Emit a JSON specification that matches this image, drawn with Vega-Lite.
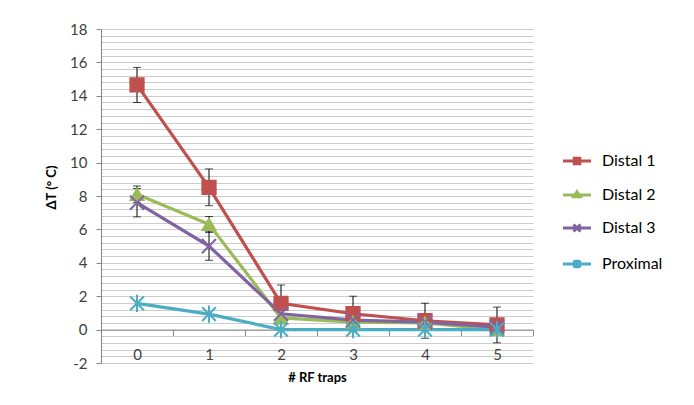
{
  "$schema": "https://vega.github.io/schema/vega-lite/v6.json",
  "width": 432,
  "height": 334,
  "autosize": {"type": "none"},
  "padding": {"left": 101, "top": 29, "right": 161, "bottom": 42},
  "background": "white",
  "config": {
    "view": {"stroke": null},
    "font": "Lato",
    "axis": {"labelFont": "Lato", "titleFont": "Lato"},
    "legend": {"labelFont": "Lato"}
  },
  "data": {
    "values": [
      {"series": "Distal 1", "x": 0, "v": 14.65, "e": 1.05},
      {"series": "Distal 1", "x": 1, "v": 8.52, "e": 1.1},
      {"series": "Distal 1", "x": 2, "v": 1.57, "e": 1.1},
      {"series": "Distal 1", "x": 3, "v": 0.95, "e": 1.05},
      {"series": "Distal 1", "x": 4, "v": 0.53, "e": 1.05},
      {"series": "Distal 1", "x": 5, "v": 0.28, "e": 1.07},
      {"series": "Distal 2", "x": 0, "v": 8.1, "e": 0.5},
      {"series": "Distal 2", "x": 1, "v": 6.3, "e": 0.47},
      {"series": "Distal 2", "x": 2, "v": 0.7, "e": 0},
      {"series": "Distal 2", "x": 3, "v": 0.45, "e": 0},
      {"series": "Distal 2", "x": 4, "v": 0.4, "e": 0},
      {"series": "Distal 2", "x": 5, "v": 0.0, "e": 0},
      {"series": "Distal 3", "x": 0, "v": 7.6, "e": 0.85},
      {"series": "Distal 3", "x": 1, "v": 5.0, "e": 0.85},
      {"series": "Distal 3", "x": 2, "v": 0.95, "e": 0},
      {"series": "Distal 3", "x": 3, "v": 0.57, "e": 0},
      {"series": "Distal 3", "x": 4, "v": 0.45, "e": 0},
      {"series": "Distal 3", "x": 5, "v": 0.15, "e": 0},
      {"series": "Proximal", "x": 0, "v": 1.57, "e": 0},
      {"series": "Proximal", "x": 1, "v": 0.93, "e": 0},
      {"series": "Proximal", "x": 2, "v": 0.0, "e": 0},
      {"series": "Proximal", "x": 3, "v": 0.0, "e": 0},
      {"series": "Proximal", "x": 4, "v": 0.0, "e": 0},
      {"series": "Proximal", "x": 5, "v": 0.0, "e": 0}
    ]
  },
  "encoding": {
    "x": {
      "field": "x",
      "type": "quantitative",
      "scale": {"domain": [-0.5, 5.5], "nice": false, "zero": false},
      "axis": {
        "title": "# RF traps",
        "titleFontSize": 13,
        "titleFontWeight": "bold",
        "titleColor": "#000000",
        "titleY": 42,
        "values": [-0.5, 0, 0.5, 1, 1.5, 2, 2.5, 3, 3.5, 4, 4.5, 5, 5.5],
        "labelExpr": "abs(datum.value - round(datum.value)) < 0.01 ? '' + round(datum.value) : ''",
        "labelOverlap": false,
        "labelFlush": false,
        "labelFontSize": 15,
        "labelColor": "#404040",
        "labelPadding": 12,
        "tickSize": 6,
        "tickColor": "#868686",
        "tickOpacity": {"condition": {"test": "abs(datum.value - round(datum.value)) > 0.25", "value": 1}, "value": 0},
        "domainColor": "#868686",
        "domainWidth": 1,
        "grid": false,
        "offset": -33.4
      }
    },
    "y": {
      "field": "v",
      "type": "quantitative",
      "scale": {"domain": [-2, 18], "nice": false, "zero": false},
      "axis": {
        "title": "ΔT (° C)",
        "titleFontSize": 13,
        "titleFontWeight": "bold",
        "titleColor": "#000000",
        "titleBaseline": "alphabetic",
        "titleX": -46,
        "titleY": 158,
        "values": [-2, -1.6, -1.2, -0.8, -0.4, 0, 0.4, 0.8, 1.2, 1.6, 2, 2.4, 2.8, 3.2, 3.6, 4, 4.4, 4.8, 5.2, 5.6, 6, 6.4, 6.8, 7.2, 7.6, 8, 8.4, 8.8, 9.2, 9.6, 10, 10.4, 10.8, 11.2, 11.6, 12, 12.4, 12.8, 13.2, 13.6, 14, 14.4, 14.8, 15.2, 15.6, 16, 16.4, 16.8, 17.2, 17.6, 18],
        "labelExpr": "abs(datum.value - round(datum.value / 2) * 2) < 0.01 ? '' + round(datum.value) : ''",
        "labelOverlap": false,
        "labelFlush": false,
        "labelFontSize": 15,
        "labelColor": "#404040",
        "labelPadding": 9,
        "tickSize": 5,
        "tickColor": "#868686",
        "tickOpacity": {"condition": {"test": "abs(datum.value - round(datum.value / 2) * 2) < 0.01", "value": 1}, "value": 0},
        "domainColor": "#868686",
        "grid": true,
        "gridColor": "#cccccc",
        "gridWidth": 1.2
      }
    }
  },
  "layer": [
    {
      "transform": [{"filter": "datum.e > 0"}],
      "mark": {"type": "errorbar", "color": "#000000", "thickness": 1, "ticks": {"size": 8, "color": "#000000"}},
      "encoding": {"yError": {"field": "e"}}
    },
    {
      "mark": {"type": "line", "strokeWidth": 3.2},
      "encoding": {
        "color": {
          "field": "series",
          "type": "nominal",
          "scale": {"domain": ["Distal 1", "Distal 2", "Distal 3", "Proximal"], "range": ["#C0504D", "#9BBB59", "#8064A2", "#4BACC6"]},
          "legend": {
            "title": null,
            "orient": "none",
            "legendX": 468,
            "legendY": 124,
            "padding": 0,
            "labelFontSize": 16,
            "labelColor": "#000000",
            "labelOffset": 17,
            "rowPadding": 15,
            "symbolSize": 100,
            "symbolStrokeWidth": 3,
            "encode": {
              "symbols": {
                "update": {
                  "shape": {"signal": "datum.value === 'Distal 1' ? 'M-2.8,0L2.8,0M-0.55,-0.55L0.55,-0.55L0.55,0.55L-0.55,0.55Z' : datum.value === 'Distal 2' ? 'M-2.8,0L2.8,0M0,-0.65L0.65,0.35L-0.65,0.35Z' : datum.value === 'Distal 3' ? 'M-2.8,0L2.8,0M-0.7,-0.7L0.7,0.7M-0.7,0.7L0.7,-0.7' : 'M-2.8,0L2.8,0M-0.7,-0.7L0.7,0.7M-0.7,0.7L0.7,-0.7M0,-0.85L0,0.85'"},
                  "fill": {"scale": "color", "field": "value"},
                  "stroke": {"scale": "color", "field": "value"},
                  "strokeWidth": {"value": 3}
                }
              }
            }
          }
        }
      }
    },
    {
      "transform": [{"filter": "datum.series === 'Distal 1'"}],
      "mark": {"type": "point", "shape": "square", "filled": true, "size": 190, "fill": "#C0504D", "stroke": "#C0504D", "strokeWidth": 1.5, "opacity": 1}
    },
    {
      "transform": [{"filter": "datum.series === 'Distal 2'"}],
      "mark": {"type": "point", "shape": "triangle-up", "filled": true, "size": 190, "fill": "#9BBB59", "stroke": "#9BBB59", "strokeWidth": 1.5, "opacity": 1}
    },
    {
      "transform": [{"filter": "datum.series === 'Distal 3'"}],
      "mark": {"type": "point", "shape": "M-1,-1L1,1M-1,1L1,-1", "filled": false, "size": 200, "stroke": "#8064A2", "strokeWidth": 2, "opacity": 1}
    },
    {
      "transform": [{"filter": "datum.series === 'Proximal'"}],
      "mark": {"type": "point", "shape": "M-1,-1L1,1M-1,1L1,-1M0,-1.25L0,1.25", "filled": false, "size": 190, "stroke": "#4BACC6", "strokeWidth": 2, "opacity": 1}
    }
  ]
}
